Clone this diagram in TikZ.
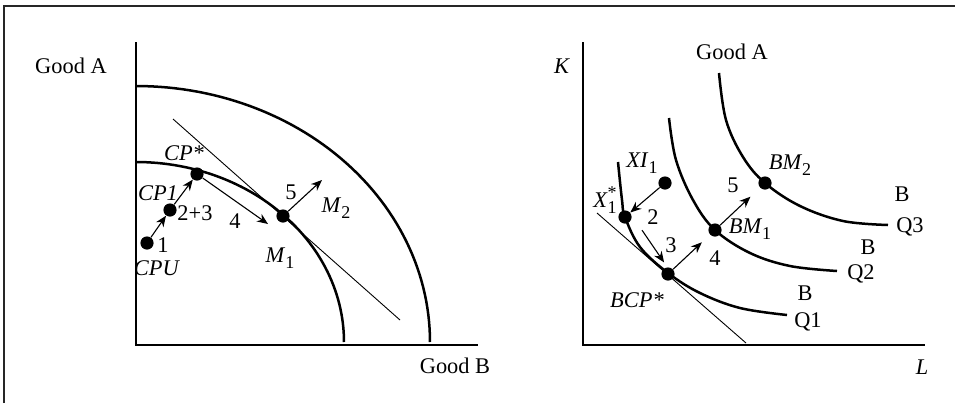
\documentclass[tikz,border=0pt]{standalone}
\usepackage{fontspec}
\setmainfont{Liberation Serif}
\usepackage{tikz}
\usetikzlibrary{arrows.meta,positioning,calc}
\newcommand{\lowsub}[1]{\raisebox{-0.55ex}{\fontsize{9}{9}\selectfont #1}}
\newcommand{\starsub}[1]{\rlap{\raisebox{0.95ex}{\fontsize{9}{9}\selectfont *}}\lowsub{#1}}
\tikzset{
  frameLine/.style={
    line width=1pt,
    draw=black!85
  },
  axisLine/.style={
    line width=0.7pt
  },
  ppfCurve/.style={
    line width=1.25pt
  },
  isoCurve/.style={
    line width=1.25pt
  },
  priceLine/.style={
    line width=0.45pt
  },
  dotNode/.style={
    circle,
    fill=black,
    minimum size=6.6pt,
    inner sep=0pt
  },
  stepArrow/.style={
    -{Stealth[length=5.5pt,width=4.5pt]},
    line width=0.55pt
  },
  lbl/.style={
    font=\fontsize{11.2}{13}\selectfont,
    inner sep=0pt
  }
}

\begin{document}
\begin{tikzpicture}[x=0.5pt,y=-0.5pt]
  \useasboundingbox (0,0) rectangle (955,403);
  \draw[frameLine] (4,403) -- (4,6) -- (955,6);

  % left panel: production possibilities
  \draw[axisLine] (136,42) -- (136,345) -- (478,345);
  \node[lbl] (goodA) at (71,66) {Good A};
  \node[lbl] (goodB) at (455,366) {Good B};

  \draw[ppfCurve] plot[domain=90:0, samples=60] ({136+294*cos(\x)},{342-256*sin(\x)});
  \draw[ppfCurve] plot[domain=90:0, samples=60] ({136+208*cos(\x)},{342-180*sin(\x)});
  \draw[priceLine] (173,119) -- (400,320);

  \node[dotNode] (cpu) at (147,243) {};
  \node[dotNode] (cp1) at (170,210) {};
  \node[dotNode] (cpStar) at (197,174) {};
  \node[dotNode] (m1) at (283,216) {};
  \coordinate (fourEnd) at (268,224);
  \coordinate (fiveEnd) at (322,180);

  \draw[stepArrow] (cpu) -- (cp1);
  \draw[stepArrow] (cp1) -- (cpStar);
  \draw[stepArrow] (cpStar) -- (fourEnd);
  \draw[stepArrow] (m1) -- (fiveEnd);

  \node[lbl] at (163,245) {1};
  \node[lbl] at (157,268) {\textit{CPU}};
  \node[lbl] at (158,193) {\textit{CP1}};
  \node[lbl] at (195,213) {2+3};
  \node[lbl] at (184,153) {\textit{CP*}};
  \node[lbl] at (235,221) {4};
  \node[lbl] at (291,192) {5};
  \node[lbl] at (336,208) {\textit{M}\lowsub{2}};
  \node[lbl] at (280,258) {\textit{M}\lowsub{1}};

  % right panel: isoquants
  \draw[axisLine] (583,42) -- (583,345) -- (925,345);
  \node[lbl] (kLab) at (562,66) {\textit{K}};
  \node[lbl] (lLab) at (922,367) {\textit{L}};
  \node[lbl] (goodAR) at (732,52) {Good A};

  \draw[isoCurve] plot[smooth, tension=0.6] coordinates {(618,162) (622,200) (625,217) (640,247) (668,273) (700,293) (740,308) (787,315)};
  \draw[isoCurve] plot[smooth, tension=0.6] coordinates {(669,118) (676,160) (693,200) (715,230) (750,253) (790,266) (837,271)};
  \draw[isoCurve] plot[smooth, tension=0.6] coordinates {(719,73) (726,120) (743,157) (765,183) (800,206) (843,221) (888,225)};
  \draw[priceLine] (597,213) -- (746,343);

  \node[dotNode] (xi) at (665,183) {};
  \node[dotNode] (xStar) at (625,217) {};
  \node[dotNode] (bcp) at (668,274) {};
  \node[dotNode] (bm1) at (715,230) {};
  \node[dotNode] (bm2) at (765,183) {};

  \draw[stepArrow] (xi) -- (xStar);
  \draw[stepArrow, shorten <=8pt, shorten >=7pt] ([xshift=4pt]xStar.center) -- ([xshift=2pt]bcp.center);
  \draw[stepArrow, shorten >=5.5pt] (bcp) -- (bm1);
  \draw[stepArrow, shorten >=6.5pt] (bm1) -- (bm2);

  \node[lbl] at (642,163) {\textit{XI}\lowsub{1}};
  \node[lbl] at (605,200) {\textit{X}\starsub{1}};
  \node[lbl] at (653,217) {2};
  \node[lbl] at (671,245) {3};
  \node[lbl] at (715,258) {4};
  \node[lbl] at (733,185) {5};
  \node[lbl] at (790,165) {\textit{BM}\lowsub{2}};
  \node[lbl] at (750,229) {\textit{BM}\lowsub{1}};
  \node[lbl] at (637,300) {\textit{BCP*}};

  \node[lbl] at (805,293) {B};
  \node[lbl] at (808,322) {Q1};
  \node[lbl] at (868,247) {B};
  \node[lbl] at (861,274) {Q2};
  \node[lbl] at (902,194) {B};
  \node[lbl] at (910,227) {Q3};
\end{tikzpicture}
\end{document}
